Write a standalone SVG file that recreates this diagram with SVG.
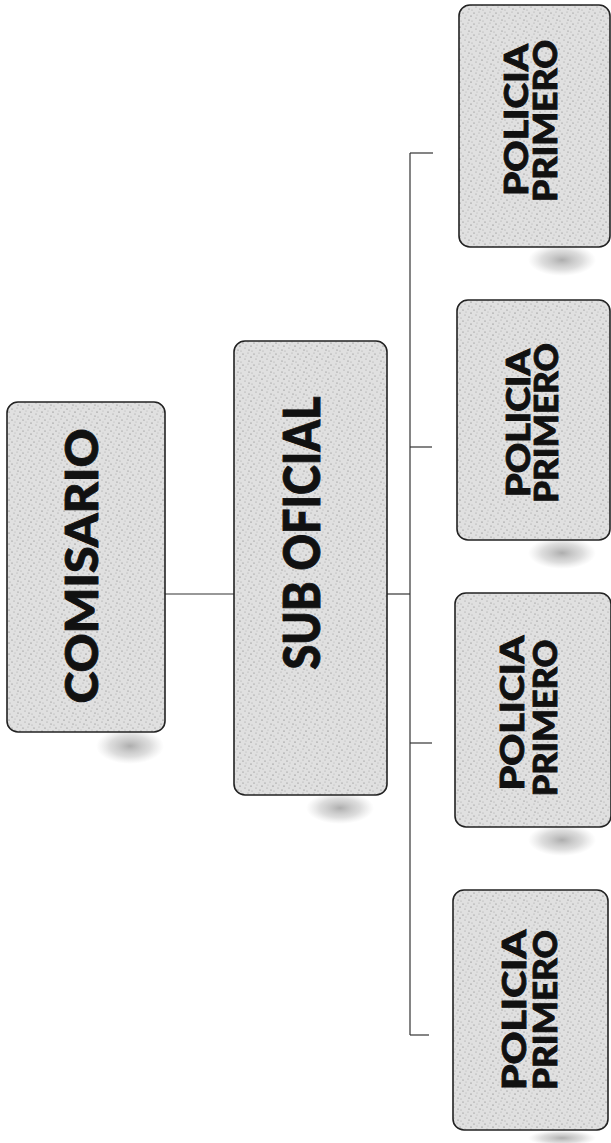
<svg xmlns="http://www.w3.org/2000/svg" width="611" height="1143" viewBox="0 0 611 1143">
<style>
.box{stroke:#222;stroke-width:1.6;fill:url(#stip)}
.conn{stroke:#333;stroke-width:1.2;fill:none}
.t{font-family:Lato,"Open Sans","DejaVu Sans",sans-serif;font-weight:900;fill:#111;stroke:#111;stroke-width:0.9;text-anchor:middle}
.sh{fill:url(#shg)}
</style>
<defs>
<pattern id="stip" width="11" height="11" patternUnits="userSpaceOnUse">
<rect width="11" height="11" fill="#e0e0e0"/>
<circle cx="1" cy="2" r="0.6" fill="#777"/>
<circle cx="6" cy="1" r="0.5" fill="#999"/>
<circle cx="9" cy="5" r="0.6" fill="#666"/>
<circle cx="3" cy="7" r="0.5" fill="#888"/>
<circle cx="7" cy="9" r="0.6" fill="#777"/>
<circle cx="4" cy="4" r="0.5" fill="#aaa"/>
<circle cx="10" cy="10" r="0.5" fill="#999"/>
</pattern>
<radialGradient id="shg">
<stop offset="0" stop-color="#999" stop-opacity="0.8"/>
<stop offset="0.6" stop-color="#bbb" stop-opacity="0.5"/>
<stop offset="1" stop-color="#ccc" stop-opacity="0"/>
</radialGradient>
</defs>
<g id="connectors">
<path class="conn" d="M165 594 H234"/>
<path class="conn" d="M387 594 H410"/>
<path class="conn" d="M410 153 V1035"/>
<path class="conn" d="M410 153 H433"/>
<path class="conn" d="M410 447 H432"/>
<path class="conn" d="M410 743 H432"/>
<path class="conn" d="M410 1035 H429"/>
</g>
<g id="comisario">
<ellipse class="sh" cx="130" cy="746" rx="34" ry="18"/>
<rect class="box" x="7" y="402" width="158" height="330" rx="11"/>
<text class="t" transform="translate(98,566) rotate(-90)" font-size="46" textLength="275" lengthAdjust="spacingAndGlyphs">COMISARIO</text>
</g>
<g id="sub-oficial">
<ellipse class="sh" cx="340" cy="808" rx="34" ry="16"/>
<rect class="box" x="234" y="341" width="153" height="454" rx="11"/>
<text class="t" transform="translate(320,533) rotate(-90)" font-size="51" textLength="273" lengthAdjust="spacingAndGlyphs">SUB OFICIAL</text>
</g>
<g id="policia-1">
<ellipse class="sh" cx="562" cy="260" rx="34" ry="16"/>
<rect class="box" x="459" y="5" width="151" height="242" rx="11"/>
<text class="t" transform="translate(528,120) rotate(-90)" font-size="33" textLength="152" lengthAdjust="spacingAndGlyphs">POLICIA</text>
<text class="t" transform="translate(557,121) rotate(-90)" font-size="33" textLength="162" lengthAdjust="spacingAndGlyphs">PRIMERO</text>
</g>
<g id="policia-2">
<ellipse class="sh" cx="562" cy="553" rx="34" ry="16"/>
<rect class="box" x="457" y="300" width="153" height="240" rx="11"/>
<text class="t" transform="translate(530,423) rotate(-90)" font-size="33" textLength="148" lengthAdjust="spacingAndGlyphs">POLICIA</text>
<text class="t" transform="translate(558,423) rotate(-90)" font-size="33" textLength="160" lengthAdjust="spacingAndGlyphs">PRIMERO</text>
</g>
<g id="policia-3">
<ellipse class="sh" cx="562" cy="840" rx="34" ry="16"/>
<rect class="box" x="455" y="593" width="156" height="234" rx="11"/>
<text class="t" transform="translate(524,713) rotate(-90)" font-size="33" textLength="155" lengthAdjust="spacingAndGlyphs">POLICIA</text>
<text class="t" transform="translate(557,718) rotate(-90)" font-size="33" textLength="157" lengthAdjust="spacingAndGlyphs">PRIMERO</text>
</g>
<g id="policia-4">
<ellipse class="sh" cx="562" cy="1138" rx="34" ry="8"/>
<rect class="box" x="453" y="890" width="155" height="240" rx="11"/>
<text class="t" transform="translate(526,1010) rotate(-90)" font-size="33" textLength="160" lengthAdjust="spacingAndGlyphs">POLICIA</text>
<text class="t" transform="translate(557,1010) rotate(-90)" font-size="33" textLength="160" lengthAdjust="spacingAndGlyphs">PRIMERO</text>
</g>
</svg>
